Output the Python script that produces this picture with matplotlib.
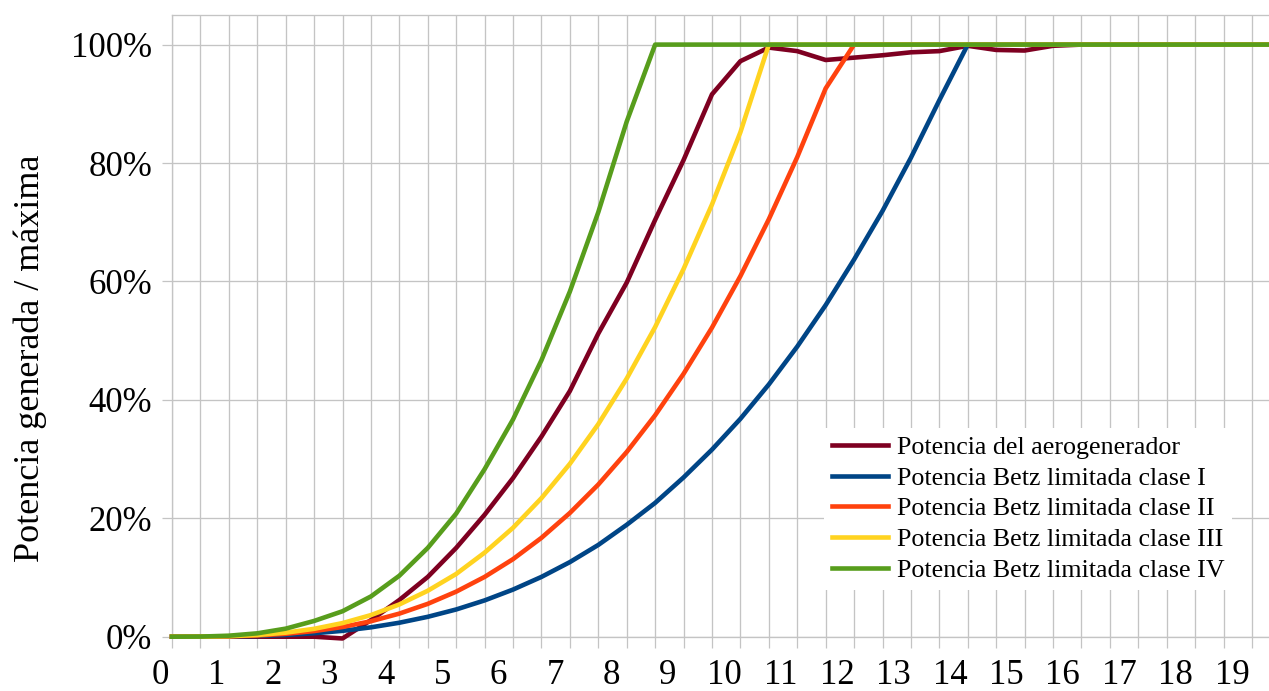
import matplotlib
matplotlib.use("Agg")
import matplotlib.pyplot as plt
import matplotlib.transforms as mtransforms
from matplotlib.ticker import MultipleLocator

# Wind speed (m/s), sampled every 0.5 m/s
wind_speed = [i * 0.5 for i in range(41)]

# Power as % of rated power
turbine = [0, 0, 0, 0, 0, 0, -0.3, 2.8, 6.2, 10.1, 15.0, 20.6, 26.8, 33.8, 41.5,
           51.2, 59.8, 70.4, 80.5, 91.6, 97.2, 99.5, 98.9, 97.4, 97.8, 98.2, 98.7,
           98.9, 99.8, 99.1, 99.0, 99.8, 100, 100, 100, 100, 100, 100, 100, 100, 100]
betz_class_1 = [0, 0.005, 0.04, 0.12, 0.29, 0.58, 0.99, 1.58, 2.36, 3.36, 4.6, 6.13,
                7.96, 10.1, 12.6, 15.5, 18.9, 22.6, 26.9, 31.6, 36.8, 42.6, 49.0, 56.0,
                63.7, 71.9, 80.9, 90.6, 100, 100, 100, 100, 100, 100, 100, 100, 100,
                100, 100, 100, 100]
betz_class_2 = [0, 0.008, 0.06, 0.21, 0.49, 0.95, 1.64, 2.61, 3.9, 5.55, 7.61, 10.1,
                13.1, 16.7, 20.9, 25.7, 31.2, 37.4, 44.4, 52.2, 60.9, 70.5, 81.0, 92.6,
                100, 100, 100, 100, 100, 100, 100, 100, 100, 100, 100, 100, 100, 100,
                100, 100, 100]
betz_class_3 = [0, 0.011, 0.085, 0.29, 0.68, 1.33, 2.3, 3.65, 5.45, 7.76, 10.6, 14.2,
                18.4, 23.4, 29.2, 35.9, 43.6, 52.3, 62.1, 73.0, 85.2, 100, 100, 100,
                100, 100, 100, 100, 100, 100, 100, 100, 100, 100, 100, 100, 100, 100,
                100, 100, 100]
betz_class_4 = [0, 0.02, 0.17, 0.57, 1.36, 2.66, 4.3, 6.8, 10.3, 15.0, 20.8, 28.3,
                36.7, 46.7, 58.3, 71.7, 87.0, 100, 100, 100, 100, 100, 100, 100, 100,
                100, 100, 100, 100, 100, 100, 100, 100, 100, 100, 100, 100, 100, 100,
                100, 100]

series_labels = ["Potencia del aerogenerador",
                 "Potencia Betz limitada clase I",
                 "Potencia Betz limitada clase II",
                 "Potencia Betz limitada clase III",
                 "Potencia Betz limitada clase IV"]
series_colors = ["#7E0021", "#004586", "#FF420E", "#FFD320", "#579D1C"]

x_labels = list(range(20))
y_ticks = [0, 20, 40, 60, 80, 100]

plt.rcParams["font.family"] = ["Liberation Serif", "DejaVu Serif"]

W, H = 1269, 691
fig = plt.figure(figsize=(W / 100, H / 100), dpi=100)
ax = fig.add_axes([172 / W, 1 - 636.7 / H, 1 - 172 / W, (636.7 - 15) / H])

grid_color = "#c4c4c4"
for series, label, color in zip(
        [turbine, betz_class_1, betz_class_2, betz_class_3, betz_class_4],
        series_labels, series_colors):
    ax.plot(wind_speed, series, color=color, lw=3.3, label=label,
            solid_joinstyle="round", clip_on=False, zorder=3)

ax.set_xlim(0, (W - 172) / 56.84)
ax.set_ylim(0, 105)

# vertical grid every 0.5 m/s, labels at whole numbers
ax.set_xticks(x_labels)
ax.set_xticklabels([str(k) for k in x_labels])
ax.xaxis.set_minor_locator(MultipleLocator(0.5))
ax.tick_params(axis="x", which="both", length=8, width=0.9, color=grid_color)
ax.tick_params(axis="x", which="major", pad=8, labelsize=25)
ax.grid(True, axis="x", which="both", color=grid_color, lw=0.95, zorder=0)

# number labels sit a little left of their grid lines
for k, lab in zip(x_labels, ax.get_xticklabels()):
    dx = (-12 - 0.42 * k) / 100
    lab.set_transform(lab.get_transform()
                      + mtransforms.ScaledTranslation(dx, 0, fig.dpi_scale_trans))

ax.set_yticks(y_ticks)
ax.set_yticklabels([f"{v}%" for v in y_ticks])
ax.tick_params(axis="y", which="major", length=7.2, width=0.9, color=grid_color,
               pad=7, labelsize=25)
ax.grid(True, axis="y", which="major", color=grid_color, lw=0.95, zorder=0)

for side in ["left", "top", "bottom"]:
    ax.spines[side].set_color(grid_color)
    ax.spines[side].set_linewidth(0.95)
ax.spines["right"].set_visible(False)

fig.text(30 / W, 1 - 358 / H, "Potencia generada / máxima", rotation=90,
         ha="center", va="center", fontsize=26)

leg = ax.legend(loc="upper left", bbox_to_anchor=(824 / W, 1 - 428 / H),
                bbox_transform=fig.transFigure, fontsize=18.7, frameon=True,
                facecolor="white", edgecolor="none", framealpha=1, fancybox=False,
                borderpad=0.3, borderaxespad=0, handlelength=2.15,
                handletextpad=0.35, labelspacing=0.29)
leg.set_zorder(5)

fig.savefig("out.png", dpi=100)
